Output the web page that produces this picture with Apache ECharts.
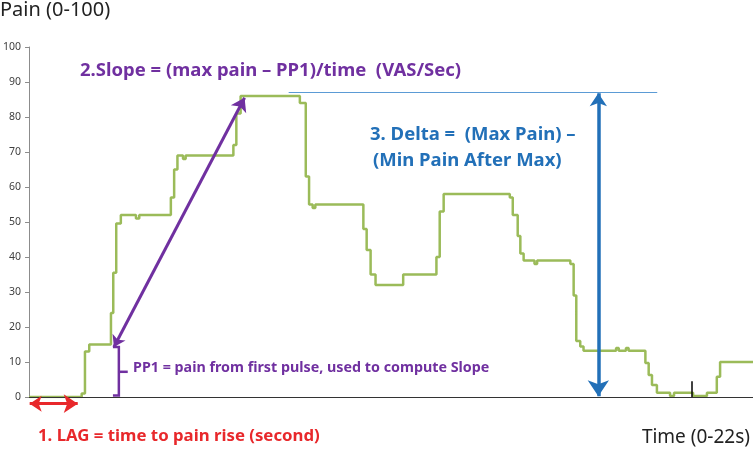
<!DOCTYPE html>
<html>
<head>
<meta charset="utf-8">
<script src="https://cdn.jsdelivr.net/npm/echarts@6/dist/echarts.min.js"></script>
<style>html,body{margin:0;padding:0;background:#fff}#c{width:753px;height:454px}</style>
</head>
<body>
<div id="c"></div>
<script>
// Time (s) at which each pain level begins (step trace)
const times = [0, 1.60, 1.70, 1.83, 2.49, 2.56, 2.65, 2.79, 3.25, 3.35, 4.31, 4.41, 4.51, 4.68, 4.76,
  6.21, 6.30, 6.43, 8.23, 8.41, 8.51, 8.62, 8.70, 10.16, 10.26, 10.38, 10.53, 11.37, 12.38, 12.48,
  12.60, 14.61, 14.70, 14.85, 14.93, 15.03, 15.36, 15.44, 16.45, 16.55, 16.63, 16.75, 16.85, 17.84,
  17.92, 18.14, 18.22, 18.73, 18.83, 18.93, 19.08, 19.48, 19.60, 20.18, 20.60, 20.90, 21.00, 22];
// Pain values (VAS 0-100)
const pain = [0, 1, 13, 15, 24, 35.5, 49.6, 52, 51, 52, 57, 65, 69, 68, 69,
  72, 81, 86, 84, 63, 55, 54, 55, 48, 42, 35, 32, 35, 40, 53,
  58, 57, 52, 46, 41, 39, 38, 39, 38, 29, 16, 14.4, 13.2, 14,
  13.2, 14, 13.2, 9.7, 6.3, 3.4, 1.2, 0.3, 1.2, 0.3, 1.2, 5.8, 10, 10];
const yTicks = [0, 10, 20, 30, 40, 50, 60, 70, 80, 90, 100];

// Annotation geometry in data units (time, pain)
const lagArrow = [[0.02, -1.9], [1.48, -1.9]];
const slopeArrow = [[2.58, 14.3], [6.55, 85.5]];
const pp1Bracket = [[2.55, 14.3], [2.73, 14.3], [2.73, 0.4], [2.55, 0.4]];
const pp1Nub = [[2.73, 7.2], [3.0, 7.2]];
const maxLine = [[7.89, 87.1], [19.09, 87.1]];
const deltaArrow = [[17.30, 86.8], [17.30, 0.2]];
const blackTick = [[20.15, 0], [20.15, 4.5]];
const baseLine = [[0, 0], [22, 0]];

const chart = echarts.init(document.getElementById('c'));
const font = "'Noto Sans', 'Open Sans', sans-serif";
function seg(coords, color, width, arrows, size) {
  return {
    type: 'lines', coordinateSystem: 'cartesian2d', polyline: false, clip: false,
    symbol: arrows ? ['arrow', 'arrow'] : ['none', 'none'], symbolSize: size || 12,
    lineStyle: {color: color, width: width, opacity: 1, curveness: 0},
    data: [{coords: coords}], z: 5
  };
}
chart.setOption({
  animation: false,
  grid: {left: 28, right: 0, top: 47, bottom: 57, containLabel: false},
  xAxis: {
    type: 'value', min: 0, max: 22,
    axisLine: {show: true, onZero: false, lineStyle: {color: '#222', width: 1}},
    axisTick: {show: false}, axisLabel: {show: false}, splitLine: {show: false}
  },
  yAxis: {
    type: 'value', min: 0, max: 100, interval: 10,
    axisLine: {show: true, lineStyle: {color: '#8c8c8c', width: 1}},
    axisTick: {show: true, length: 4, lineStyle: {color: '#8c8c8c'}},
    axisLabel: {color: '#404040', fontSize: 10.5, fontFamily: font, margin: 8,
      formatter: v => yTicks.includes(v) ? String(v) : ''},
    splitLine: {show: false}
  },
  series: [
    seg(baseLine, '#333', 1, false),
    {
      type: 'line', step: 'end', symbol: 'none', z: 3,
      data: times.map((t, i) => [t, pain[i]]),
      lineStyle: {color: '#9bbb59', width: 2.5}
    },
    seg(lagArrow, '#e8282b', 3, true, [12, 14]),
    seg(slopeArrow, '#7030a0', 3, true, [11, 13]),
    {
      type: 'lines', coordinateSystem: 'cartesian2d', polyline: true, clip: false,
      symbol: ['none', 'none'], z: 5,
      lineStyle: {color: '#7030a0', width: 2.5, opacity: 1},
      data: [{coords: pp1Bracket}, {coords: pp1Nub}]
    },
    seg(maxLine, '#5b9bd5', 1, false),
    seg(deltaArrow, '#2270b8', 3.5, true, [13, 16]),
    seg(blackTick, '#000', 1.5, false)
  ],
  graphic: [
    {type: 'text', left: 0, top: 0, style: {text: 'Pain (0-100)', fill: '#222', font: "20px " + font}},
    {type: 'text', left: 80, top: 61, style: {text: '2.Slope = (max pain \u2013 PP1)/time  (VAS/Sec)', fill: '#7030a0', font: "bold 18.5px " + font}},
    {type: 'text', left: 370, top: 125, style: {text: '3. Delta =  (Max Pain) \u2013', fill: '#2270b8', font: "bold 18.5px " + font}},
    {type: 'text', left: 373, top: 151, style: {text: '(Min Pain After Max)', fill: '#2270b8', font: "bold 18.5px " + font}},
    {type: 'text', left: 133, top: 361, style: {text: 'PP1 = pain from first pulse, used to compute Slope', fill: '#7030a0', font: "bold 14.3px " + font}},
    {type: 'text', left: 38, top: 428, style: {text: '1. LAG = time to pain rise (second)', fill: '#e8282b', font: "bold 16.8px " + font}},
    {type: 'text', right: 3, top: 428, style: {text: 'Time (0-22s)', fill: '#222', font: "19px " + font}}
  ]
});
</script>
</body>
</html>
